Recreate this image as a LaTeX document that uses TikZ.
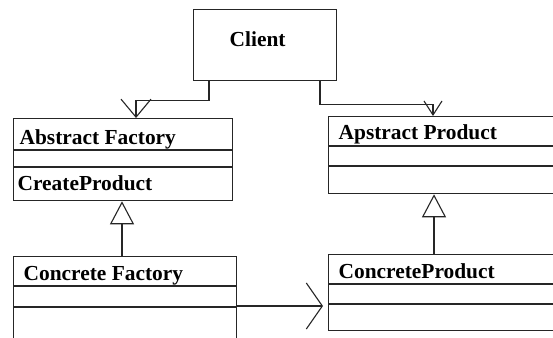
\documentclass[tikz,border=0pt]{standalone}
\usepackage{fontspec}
\setmainfont{Liberation Serif}
\usetikzlibrary{arrows.meta}
\begin{document}
\begin{tikzpicture}[x=1pt,y=-1pt,
  line width=1.3pt,
  color=black!85,
  classbox/.style={draw, line width=1.3pt, anchor=north west, inner sep=0pt},
  title/.style={anchor=base west, inner sep=0pt, text=black, font=\fontsize{21.4}{24}\selectfont\bfseries},
  assoc/.style={-{Straight Barb[length=18pt,width=30pt,line width=1.1pt]}},
  assocsmall/.style={-{Straight Barb[length=14pt,width=18pt,line width=1.1pt]}},
  assocbig/.style={-{Straight Barb[length=16pt,width=46pt,line width=1.1pt]}},
  inherit/.style={-{Triangle[open,length=23pt,width=24pt,line width=1.1pt,fill=white]}}]
\useasboundingbox (0,0) rectangle (553,337);
\fill[white] (0,0) rectangle (553,337);
\clip (0,0) rectangle (553,337);

% Client
\node[classbox, minimum width=143pt, minimum height=71pt] (client) at (193,9) {};
\node[title] (clienttxt) at (229,47) {Client};

% Abstract Factory
\node[classbox, minimum width=219pt, minimum height=82pt] (af) at (13,118) {};
\draw (13,150) -- (232,150);
\draw (13,167) -- (232,167);
\node[title] (aftxt) at (19,144) {Abstract Factory};
\node[title] (afop) at (17,190) {CreateProduct};

% Concrete Factory
\node[classbox, minimum width=223pt, minimum height=90pt] (cf) at (13,256) {};
\draw (13,286) -- (236,286);
\draw (13,307) -- (236,307);
\node[title] (cftxt) at (23,280) {Concrete Factory};

% Apstract Product
\node[classbox, minimum width=240pt, minimum height=77pt] (ap) at (328,116) {};
\draw (328,146) -- (568,146);
\draw (328,166) -- (568,166);
\node[title] (aptxt) at (338,139) {Apstract Product};

% ConcreteProduct
\node[classbox, minimum width=240pt, minimum height=76pt] (cp) at (328,254) {};
\draw (328,284) -- (568,284);
\draw (328,304) -- (568,304);
\node[title] (cptxt) at (338,278) {ConcreteProduct};

% Associations from Client
\draw[assoc] ([xshift=16pt]client.south west) -- ++(0,19) -| ([xshift=123pt]af.north west);
\draw[assocsmall] ([xshift=127pt]client.south west) -- ++(0,23) -| ([xshift=105pt]ap.north west);

% Concrete Factory uses ConcreteProduct
\coordinate (cfout) at (236.6,306);
\draw[assocbig] (cfout) -- ([xshift=-5pt]cp.west |- cfout);

% Generalisations
\draw[inherit] ([xshift=109pt]cf.north west) -- ([xshift=109pt]af.south west);
\draw[inherit] ([xshift=106pt]cp.north west) -- ([xshift=106pt]ap.south west);
\end{tikzpicture}
\end{document}
